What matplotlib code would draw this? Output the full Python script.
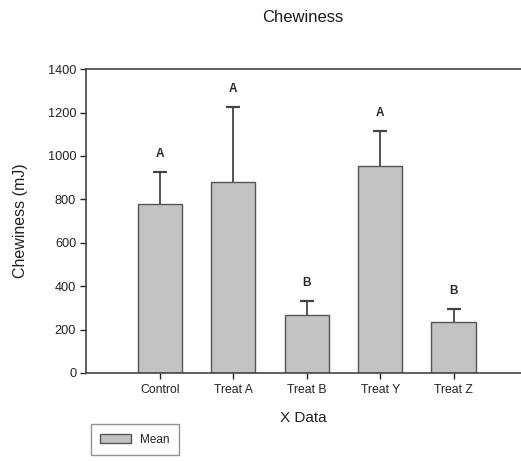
import matplotlib.pyplot as plt
import numpy as np

plt.rcParams['font.family'] = ['Liberation Sans', 'DejaVu Sans']

groups = ['Control', 'Treat A', 'Treat B', 'Treat Y', 'Treat Z']
means = [778, 880, 267, 953, 235]
errors = [150, 345, 65, 162, 60]
letters = ['A', 'A', 'B', 'A', 'B']

fig = plt.figure(figsize=(5.21, 4.61), dpi=100)
ax = fig.add_axes([0.165, 0.191, 0.835, 0.659])

x = np.arange(len(groups))
bars = ax.bar(x, means, width=0.6, color='#c3c3c3', edgecolor='#555555',
              linewidth=1.0, label='Mean', zorder=2)
# upper-only error bars, hide the lower caps sitting on the bar tops
eb = ax.errorbar(x, means, yerr=[np.zeros(len(errors)), errors], fmt='none',
                 ecolor='#444444', elinewidth=1.3, capsize=5, capthick=1.6,
                 zorder=1)
eb[1][0].set_visible(False)

for xi, m, e, lab in zip(x, means, errors, letters):
    ax.text(xi, m + e + 55, lab, ha='center', va='bottom', fontsize=8.5,
            fontweight='bold', color='#2a2a2a')

ax.set_xlim(-1.01, 4.92)
ax.set_ylim(0, 1400)
ax.set_yticks(range(0, 1401, 200))
ax.set_xticks(x)
ax.set_xticklabels(groups)
ax.tick_params(colors='#222222', length=4, width=1, direction='out')
ax.tick_params(axis='x', labelsize=8.8, pad=4)
ax.tick_params(axis='y', labelsize=9.2, pad=3)
ax.spines['right'].set_visible(False)
for s in ['left', 'bottom', 'top']:
    ax.spines[s].set_color('#444444')
    ax.spines[s].set_linewidth(1.2)

ax.set_xlabel('X Data', fontsize=11, color='#222222', labelpad=11)
ax.set_ylabel('Chewiness (mJ)', fontsize=11.5, color='#222222', labelpad=14)
fig.text(0.582, 0.963, 'Chewiness', ha='center', va='center', fontsize=12,
         color='#1a1a1a')

fig.legend(handles=[bars], labels=['Mean'], loc='lower left',
           bbox_to_anchor=(0.163, 0.0), fontsize=8.5, frameon=True,
           fancybox=False, edgecolor='#777777', handlelength=2.6,
           handleheight=0.8, borderpad=0.8, labelcolor='#222222')

fig.savefig('out.png', dpi=100)
